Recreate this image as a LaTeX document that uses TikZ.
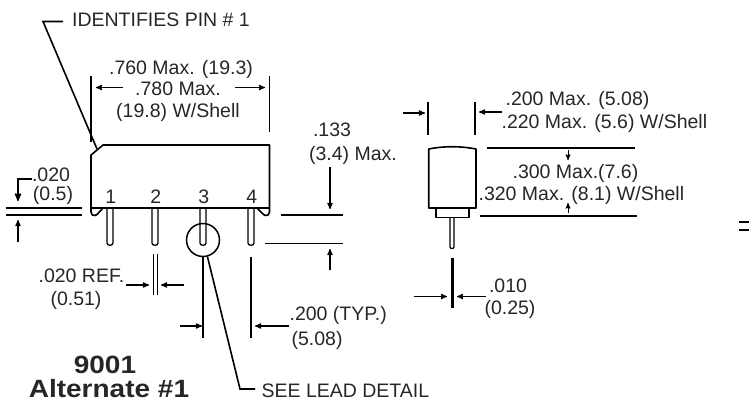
\documentclass[tikz,border=0pt]{standalone}
\usepackage{fontspec}
\setmainfont{Liberation Sans}
\newfontfamily\titlefont[FakeStretch=1.12]{Liberation Sans Bold}
\usetikzlibrary{arrows}

\begin{document}
\begin{tikzpicture}[x=1pt,y=-1pt,>=stealth',line width=1.2pt,
                    dimtext/.style={inner sep=0pt,font=\fontsize{19.5}{22}\selectfont,text=black!85},
                    titletext/.style={inner sep=0pt,font=\fontsize{25}{28}\titlefont,text=black!85},
                    body/.style={line width=1.6pt,line join=round},
                    ext/.style={line width=1.6pt},
                    dimline/.style={->,line width=1.2pt}]
  \useasboundingbox (0,0) rectangle (749,402);

  % front view
  \draw[body] (91,208) -- (91,155) -- (103,145) -- (269.5,145) -- (269.5,208) -- cycle;
  \draw[body] (91,208) -- (91,212) .. controls (91,215) and (93,215.5) .. (95,215.5) -- (97,214.5) -- (103,208);
  \draw[body] (269.5,208) -- (269.5,212) .. controls (269.5,215) and (267.5,215.5) .. (265.5,215.5)
     -- (263.5,214.5) -- (257,208);
  \foreach \pinx/\name in {110/1,155/2,203/3,251/4} {
    \draw[line width=1.3pt] (\pinx-3,208) -- (\pinx-3,243) .. controls (\pinx-3,246) and (\pinx+3,246) .. (\pinx+3,243) -- (\pinx+3,208);
    \node[dimtext] (pin\name) at (\pinx+0.7,197) {\name};
  }
  \node[circle,draw,line width=1.5pt,minimum size=33pt,inner sep=0pt] (detail) at (203,240) {};

  % side view
  \draw[body] (428.7,208) -- (428.7,149) .. controls (436,147.5) and (445,146.7) .. (452,146.7)
     .. controls (460,146.7) and (468,147.5) .. (476,149) -- (476,208) -- cycle;
  \draw[body] (436,208) -- (436,217.5) -- (469,217.5) -- (469,208);
  \draw[line width=1.2pt] (450,218) -- (450,247) .. controls (450,249) and (454,249) .. (454,247) -- (454,218);

  % pin 1 marker
  \coordinate (markA) at (63,21.5);
  \coordinate (markB) at (43,21.5);
  \coordinate (markC) at (97,149);
  \draw[ext] (markA) -- (markB) -- (markC);
  \node[dimtext,anchor=west] (marklabel) at (71.5,20) {IDENTIFIES PIN \# 1};

  % overall length
  \draw[ext] (91,76) -- (91,142);
  \draw[ext] (269.5,76) -- (269.5,132);
  \draw[dimline] (123,87.5) -- (96,87.5);
  \draw[dimline] (235,87.5) -- (265,87.5);
  \node[dimtext] (lenA) at (181,69) {.760 Max. (19.3)};
  \node[dimtext] (lenB) at (178,89) {.780 Max.};
  \node[dimtext] (lenC) at (178,112) {(19.8) W/Shell};

  % tab height
  \coordinate (tabA) at (32,179);
  \coordinate (tabB) at (18,179);
  \coordinate (tabC) at (18,201);
  \draw[ext,->] (tabA) -- (tabB) -- (tabC);
  \draw[ext] (6,208) -- (82,208);
  \draw[ext] (6,215) -- (82,215);
  \draw[dimline] (18,242) -- (18,220);
  \node[dimtext] (tabtop) at (51,175) {.020};
  \node[dimtext] (tabbot) at (53,195.5) {(0.5)};

  % pin width
  \draw[ext] (153.3,254) -- (153.3,295);
  \draw[ext] (157.5,254) -- (157.5,295);
  \draw[dimline] (126,285) -- (149,285);
  \draw[dimline] (184,285) -- (161,285);
  \node[dimtext,anchor=west] (refA) at (38,276) {.020 REF.};
  \node[dimtext] (refB) at (76,300) {(0.51)};

  % pin spacing
  \draw[ext] (203,256) -- (203,338);
  \draw[ext] (251,257) -- (251,338);
  \draw[dimline] (180,326) -- (202,326);
  \draw[dimline] (289,326) -- (255,326);
  \node[dimtext,anchor=west] (spaceA) at (289,315) {.200 (TYP.)};
  \node[dimtext,anchor=west] (spaceB) at (291,340) {(5.08)};

  % lead detail
  \coordinate (leadB) at (240,389);
  \coordinate (leadC) at (255,389);
  \draw[ext] (detail.285) -- (leadB) -- (leadC);
  \node[dimtext,anchor=west] (leadlabel) at (261,391) {SEE LEAD DETAIL};

  % title
  \node[titletext] (titleA) at (105,365) {9001};
  \node[titletext] (titleB) at (109,389) {Alternate \#1};

  % seated height
  \draw[ext] (281,215) -- (343,215);
  \draw[ext] (265,243.5) -- (343,243.5);
  \draw[dimline] (330,167) -- (330,209);
  \draw[dimline] (330,270) -- (330,249);
  \node[dimtext] (seatA) at (332,130) {.133};
  \node[dimtext] (seatB) at (353,155) {(3.4) Max.};

  % width
  \draw[ext] (428,102) -- (428,135);
  \draw[ext] (475,102) -- (475,135);
  \draw[dimline] (403,113) -- (425,113);
  \draw[dimline] (502,112) -- (479,112);
  \node[dimtext,anchor=west] (widA) at (505,100) {.200 Max. (5.08)};
  \node[dimtext,anchor=west] (widB) at (501,123) {.220 Max. (5.6) W/Shell};

  % height
  \draw[ext] (487,147.7) -- (635,147.7);
  \draw[ext] (480,215.7) -- (637,215.7);
  \draw[->,line width=1pt] (568,150) -- (568,160);
  \draw[->,line width=1pt] (568,213) -- (568,203);
  \node[dimtext,anchor=west] (highA) at (512,173) {.300 Max.(7.6)};
  \node[dimtext,anchor=west] (highB) at (478,195) {.320 Max. (8.1) W/Shell};

  % lead thickness
  \draw[line width=3pt] (452,258) -- (452,308);
  \draw[dimline] (414,296.5) -- (447,296.5);
  \draw[dimline] (486,296.5) -- (457,296.5);
  \node[dimtext] (leadA) at (508,286) {.010};
  \node[dimtext] (leadD) at (510,309) {(0.25)};

  % edge of the next drawing
  \draw[ext] (739,222) -- (749,222);
  \draw[ext] (739,230) -- (749,230);
\end{tikzpicture}
\end{document}
